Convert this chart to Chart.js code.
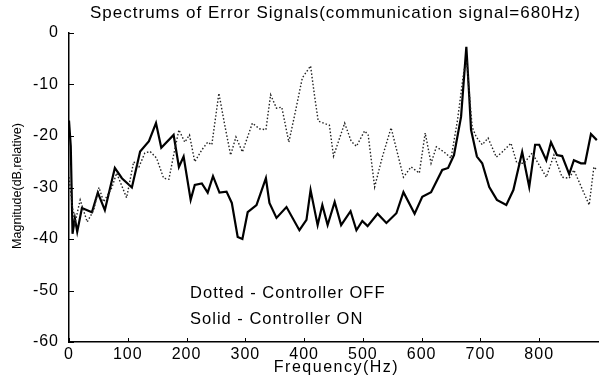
<!DOCTYPE html>
<html>
<head>
<meta charset="utf-8">
<script src="https://cdn.jsdelivr.net/npm/chart.js@4.4.0/dist/chart.umd.min.js"></script>
<style>
  html, body { margin: 0; padding: 0; background: #fff; }
  #wrap { width: 607px; height: 377px; }
</style>
</head>
<body>
<div id="wrap"><canvas id="spec"></canvas></div>
<script>
// Controller OFF (dotted)
const offFreq = [0, 5, 10, 19, 31, 42, 51, 59, 73, 81, 98, 110, 119, 129, 138, 149, 161, 170, 178, 187, 197, 205, 214, 226, 236, 243, 255, 265, 275, 284, 295, 312, 324, 335, 343, 353, 362, 374, 384, 397, 411, 418, 424, 438, 443, 450, 469, 480, 489, 503, 509, 520, 533, 548, 569, 582, 596, 606, 616, 625, 638, 650, 661, 672, 677, 681, 686, 693, 703, 713, 727, 737, 752, 762, 774, 788, 812, 825, 839, 851, 859, 885, 893, 898];
const offMag  = [-28, -33, -37, -32.4, -36.7, -34.4, -30, -32.8, -30, -27.2, -32, -25, -26, -23.3, -23, -24.3, -28.2, -28.4, -23.7, -18.8, -21.2, -19.8, -25, -22.7, -21.2, -21.7, -11.7, -17.9, -23.7, -20.2, -23.1, -17.5, -18.6, -18.8, -12, -14.6, -14.4, -21.2, -15.9, -8.7, -6.4, -12.4, -17.1, -17.7, -17.9, -23.9, -17.5, -21, -22, -19, -19.8, -29.9, -24.1, -18.4, -28, -26, -27.2, -19.4, -25.3, -22.1, -23.1, -24.3, -16.9, -7.2, -5.8, -11.7, -18.3, -20.2, -21.7, -20.4, -24.1, -23.1, -21.4, -25.3, -25.3, -23.3, -28, -23.7, -28, -28.2, -26.6, -33.4, -26, -26.6];

// Controller ON (solid)
const onFreq = [0, 3, 6, 10, 14, 22, 39, 49, 61, 78, 90, 107, 121, 136, 148, 157, 178, 187, 195, 207, 214, 226, 236, 245, 256, 268, 277, 287, 295, 304, 319, 335, 341, 353, 370, 392, 404, 411, 423, 431, 440, 452, 463, 479, 489, 499, 508, 525, 540, 557, 569, 588, 601, 616, 635, 645, 655, 667, 676, 681, 684, 694, 703, 715, 728, 744, 756, 771, 783, 793, 800, 812, 820, 830, 839, 851, 859, 871, 878, 888, 898];
const onMag  = [-17, -22, -39, -36, -38.6, -34, -34.8, -31, -34.4, -26.2, -28.2, -30, -23, -21, -17.5, -22.3, -19.8, -26, -24, -32.4, -29.5, -29.2, -31, -27.8, -31, -30.8, -33, -39.6, -40, -34.8, -33.4, -28.2, -33, -35.9, -33.8, -38.3, -36.3, -30.5, -37.3, -33.4, -37.3, -32.8, -37.3, -34.6, -38.3, -36.5, -37.5, -35.1, -36.9, -35, -30.9, -35.1, -31.8, -30.9, -26.6, -26.2, -23.7, -16.3, -2.7, -12.4, -18.8, -24, -25.3, -29.9, -32.4, -33.4, -30.5, -23.1, -29.9, -21.7, -21.7, -24.7, -21.2, -23.7, -23.9, -27.4, -24.7, -25.3, -25.3, -19.6, -20.8];

const yTicks = [0, -10, -20, -30, -40, -50, -60];
const xTicks = [0, 100, 200, 300, 400, 500, 600, 700, 800];

const titleText = 'Spectrums of Error Signals(communication signal=680Hz)';
const xTitle = 'Frequency(Hz)';
const yTitle = 'Magnitude(dB,relative)';
const notes = [
  { text: 'Dotted - Controller OFF', x: 206, y: -50.5 },
  { text: 'Solid - Controller ON', x: 206, y: -55.7 }
];

const FONT = "'Liberation Sans', Arial, sans-serif";

function toPoints(xs, ys) {
  return xs.map((x, i) => ({ x: x, y: ys[i] }));
}

// the picture's text is a bit wide, so spread the letters out
const spacing = {
  id: 'spacing',
  beforeDraw(chart) { chart.ctx.letterSpacing = '1px'; }
};

// inward ticks, titles and the two notes
const extras = {
  id: 'extras',
  afterDraw(chart) {
    const ctx = chart.ctx;
    const xs = chart.scales.x, ys = chart.scales.y;
    const area = chart.chartArea;
    const midX = (area.left + area.right) / 2;
    ctx.save();
    ctx.strokeStyle = '#000';
    ctx.lineWidth = 1;
    ctx.beginPath();
    xTicks.forEach(v => {
      const px = Math.round(xs.getPixelForValue(v)) + 0.5;
      ctx.moveTo(px, area.bottom);
      ctx.lineTo(px, area.bottom - 4);
    });
    yTicks.forEach(v => {
      const py = Math.round(ys.getPixelForValue(v)) + 0.5;
      ctx.moveTo(area.left, py);
      ctx.lineTo(area.left + 5, py);
    });
    ctx.stroke();

    ctx.fillStyle = '#000';
    ctx.textBaseline = 'middle';

    // title
    ctx.letterSpacing = '1px';
    ctx.font = '17px ' + FONT;
    ctx.textAlign = 'center';
    ctx.fillText(titleText, midX + 2, 13);

    // x axis title
    ctx.font = '16px ' + FONT;
    ctx.letterSpacing = '1.5px';
    ctx.fillText(xTitle, midX + 3, 368);

    // notes
    ctx.letterSpacing = '1px';
    ctx.font = '16.5px ' + FONT;
    ctx.textAlign = 'left';
    notes.forEach(n => {
      ctx.fillText(n.text, xs.getPixelForValue(n.x), ys.getPixelForValue(n.y));
    });

    // y axis title
    ctx.letterSpacing = '0px';
    ctx.font = '12.5px ' + FONT;
    ctx.translate(18, 186);
    ctx.rotate(-Math.PI / 2);
    ctx.textAlign = 'center';
    ctx.fillText(yTitle, 0, 0);
    ctx.restore();
    ctx.letterSpacing = '0px';
  }
};

new Chart(document.getElementById('spec'), {
  type: 'line',
  data: {
    datasets: [
      {
        label: 'Controller OFF',
        data: toPoints(offFreq, offMag),
        borderColor: '#222',
        borderWidth: 1.4,
        borderDash: [1.5, 2],
        pointRadius: 0,
        tension: 0,
        fill: false
      },
      {
        label: 'Controller ON',
        data: toPoints(onFreq, onMag),
        borderColor: '#000',
        borderWidth: 2.2,
        pointRadius: 0,
        tension: 0,
        fill: false
      }
    ]
  },
  options: {
    responsive: true,
    maintainAspectRatio: false,
    animation: false,
    layout: { padding: { left: 0, right: 9, top: 33, bottom: 0 } },
    plugins: {
      legend: { display: false },
      tooltip: { enabled: false },
      title: { display: false }
    },
    scales: {
      x: {
        type: 'linear',
        min: 0,
        max: 900,
        afterFit: s => { s.height = 35; },
        afterBuildTicks: s => { s.ticks = xTicks.map(v => ({ value: v })); },
        grid: { display: false, drawTicks: false },
        border: { display: true, color: '#000', width: 1.5 },
        ticks: { color: '#000', padding: 3, font: { family: FONT, size: 16 }, maxRotation: 0 }
      },
      y: {
        min: -60,
        max: 0,
        afterFit: s => { s.width = 69; },
        afterBuildTicks: s => { s.ticks = yTicks.map(v => ({ value: v })); },
        grid: { display: false, drawTicks: false },
        border: { display: true, color: '#000', width: 1.5 },
        ticks: { color: '#000', padding: 10, font: { family: FONT, size: 16 } }
      }
    }
  },
  plugins: [spacing, extras]
});
</script>
</body>
</html>
